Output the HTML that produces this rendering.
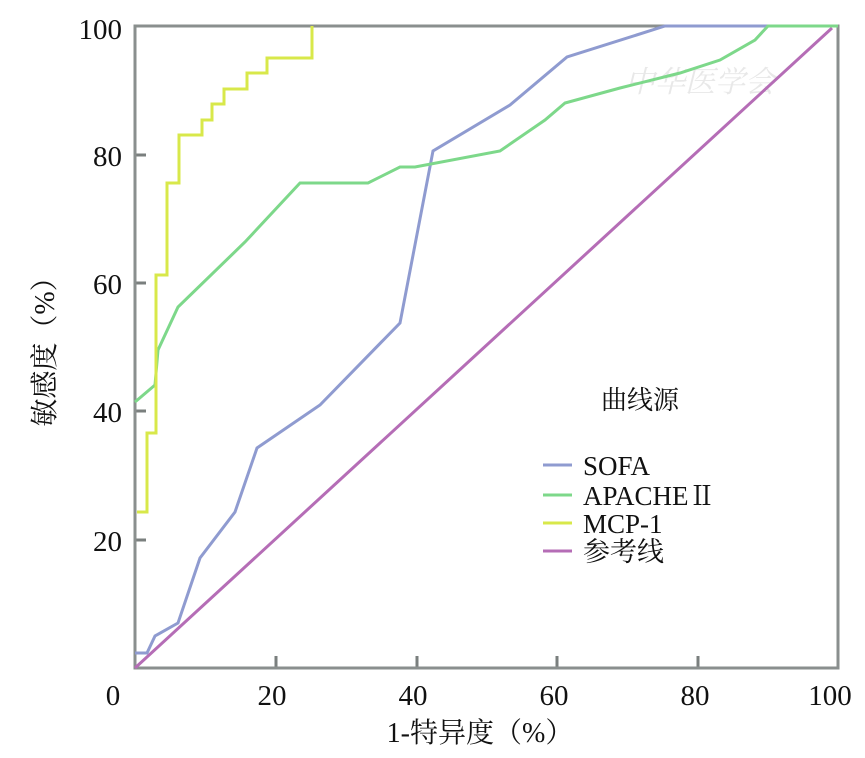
<!DOCTYPE html>
<html><head><meta charset="utf-8"><style>
html,body{margin:0;padding:0;background:#fff;}
</style></head><body>
<svg width="865" height="753" viewBox="0 0 865 753" xmlns="http://www.w3.org/2000/svg" font-family="'Liberation Serif','Noto Serif CJK SC',serif">
<rect x="0" y="0" width="865" height="753" fill="#fff"/>
<text x="700" y="92" font-size="30" fill="#e8e8e8" font-style="italic" text-anchor="middle" font-family="'Noto Serif CJK SC',serif">中华医学会</text>
<g stroke="#7a7f7e" stroke-width="3">
<line x1="134" y1="155" x2="146" y2="155"/>
<line x1="134" y1="283" x2="146" y2="283"/>
<line x1="134" y1="411" x2="146" y2="411"/>
<line x1="134" y1="540" x2="146" y2="540"/>
<line x1="276" y1="668" x2="276" y2="656"/>
<line x1="417" y1="668" x2="417" y2="656"/>
<line x1="557" y1="668" x2="557" y2="656"/>
<line x1="698" y1="668" x2="698" y2="656"/>
</g>
<rect x="135" y="26" width="703" height="642" fill="none" stroke="#8a8f8e" stroke-width="3"/>
<g fill="none" stroke-width="3" stroke-linejoin="miter">
<polyline stroke="#b56db6" points="135,668 832,28"/>
<polyline stroke="#8f9bd0" points="135,653 147,653 155,636 178,623 200,558 235,512 257,448 320,405 400,323 433,151 510,105 567,57 665,26 838,26"/>
<polyline stroke="#7dd88a" points="135,402 155,385 158,350 178,307 245,242 300,183 368,183 400,167 415,167 500,151 545,120 565,103 620,88 680,73 720,60 755,40 768,26 838,26"/>
<polyline stroke="#d8e84a" points="137,512 147,512 147,433 156,433 156,275 167,275 167,183 179,183 179,135 202,135 202,120 212,120 212,104 224,104 224,89 247,89 247,73 267,73 267,58 312,58 312,26"/>
</g>
<g font-size="29" fill="#111" text-anchor="end">
<text x="122" y="39">100</text>
<text x="122" y="166">80</text>
<text x="122" y="294">60</text>
<text x="122" y="422">40</text>
<text x="122" y="551">20</text>
</g>
<g font-size="29" fill="#111" text-anchor="middle">
<text x="113" y="705">0</text>
<text x="272" y="705">20</text>
<text x="413" y="705">40</text>
<text x="554" y="705">60</text>
<text x="695" y="705">80</text>
<text x="830" y="705">100</text>
</g>
<text x="480" y="742" font-size="28" fill="#111" text-anchor="middle">1-特异度（%）</text>
<text transform="translate(54,345) rotate(-90)" font-size="28" fill="#111" text-anchor="middle">敏感度（%）</text>
<text x="640" y="409" font-size="26" fill="#111" text-anchor="middle">曲线源</text>
<g stroke-width="3">
<line x1="543" y1="465" x2="572" y2="465" stroke="#8f9bd0"/>
<line x1="543" y1="495" x2="572" y2="495" stroke="#7dd88a"/>
<line x1="543" y1="523" x2="572" y2="523" stroke="#d8e84a"/>
<line x1="543" y1="551" x2="572" y2="551" stroke="#b56db6"/>
</g>
<g font-size="27" fill="#111">
<text x="583" y="475">SOFA</text>
<text x="583" y="505">APACHEⅡ</text>
<text x="583" y="533">MCP-1</text>
<text x="583" y="561">参考线</text>
</g>
</svg>
</body></html>
